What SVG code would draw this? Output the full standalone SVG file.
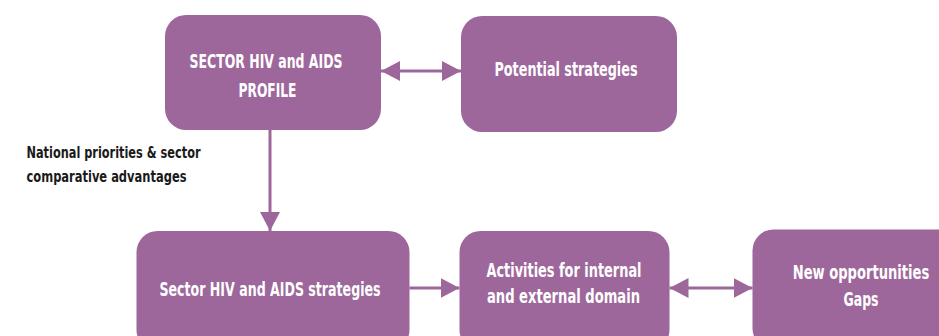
<svg xmlns="http://www.w3.org/2000/svg" width="939" height="336" viewBox="0 0 939 336">
  <style>
    .box { fill: #9E679C; }
    .t { fill: #ffffff; font-family: "Liberation Sans Narrow", "DejaVu Sans Condensed", "Liberation Sans", sans-serif; font-weight: bold; font-size: 19px; text-anchor: middle; }
    .lbl { fill: #1a1a1a; font-family: "Liberation Sans Narrow", "DejaVu Sans Condensed", "Liberation Sans", sans-serif; font-weight: bold; font-size: 16px; }
    .conn { stroke: #9E679C; stroke-width: 3; fill: none; }
  </style>
  <defs>
    <marker id="arrow" markerUnits="userSpaceOnUse" markerWidth="20" markerHeight="20" refX="19" refY="10" orient="auto-start-reverse">
      <path d="M0,0 L19,10 L0,20 Z" fill="#9E679C"/>
    </marker>
  </defs>
  <rect width="939" height="336" fill="#ffffff"/>

  <g id="node-profile">
    <rect class="box" x="165" y="15" width="216" height="115" rx="21"/>
    <text class="t" x="266" y="68" textLength="153" lengthAdjust="spacingAndGlyphs">SECTOR HIV and AIDS</text>
    <text class="t" x="267.5" y="96.5" textLength="58" lengthAdjust="spacingAndGlyphs">PROFILE</text>
  </g>

  <g id="node-potential">
    <rect class="box" x="461" y="16" width="216" height="116" rx="21"/>
    <text class="t" x="566" y="76" textLength="143" lengthAdjust="spacingAndGlyphs">Potential strategies</text>
  </g>

  <g id="node-sector-strategies">
    <rect class="box" x="136.5" y="231" width="273" height="120" rx="21"/>
    <text class="t" x="270" y="296" textLength="221" lengthAdjust="spacingAndGlyphs">Sector HIV and AIDS strategies</text>
  </g>

  <g id="node-activities">
    <rect class="box" x="459.5" y="231" width="210" height="120" rx="21"/>
    <text class="t" x="564" y="276.5" textLength="155" lengthAdjust="spacingAndGlyphs">Activities for internal</text>
    <text class="t" x="563.5" y="303" textLength="153" lengthAdjust="spacingAndGlyphs">and external domain</text>
  </g>

  <g id="node-opportunities">
    <rect class="box" x="752.5" y="229.5" width="230" height="120" rx="21"/>
    <text class="t" x="861" y="279" textLength="136.5" lengthAdjust="spacingAndGlyphs">New opportunities</text>
    <text class="t" x="861" y="306" textLength="35" lengthAdjust="spacingAndGlyphs">Gaps</text>
  </g>

  <g id="label-national">
    <text class="lbl" x="26.5" y="158" textLength="174" lengthAdjust="spacingAndGlyphs">National priorities &amp; sector</text>
    <text class="lbl" x="26.5" y="182" textLength="160" lengthAdjust="spacingAndGlyphs">comparative advantages</text>
  </g>

  <g id="connectors">
    <line class="conn" x1="381" y1="71" x2="461" y2="71" marker-start="url(#arrow)" marker-end="url(#arrow)"/>
    <line class="conn" x1="270" y1="130" x2="270" y2="231" marker-end="url(#arrow)"/>
    <line class="conn" x1="409.5" y1="288" x2="459.5" y2="288" marker-end="url(#arrow)"/>
    <line class="conn" x1="669.5" y1="288" x2="752.5" y2="288" marker-start="url(#arrow)" marker-end="url(#arrow)"/>
  </g>
</svg>
